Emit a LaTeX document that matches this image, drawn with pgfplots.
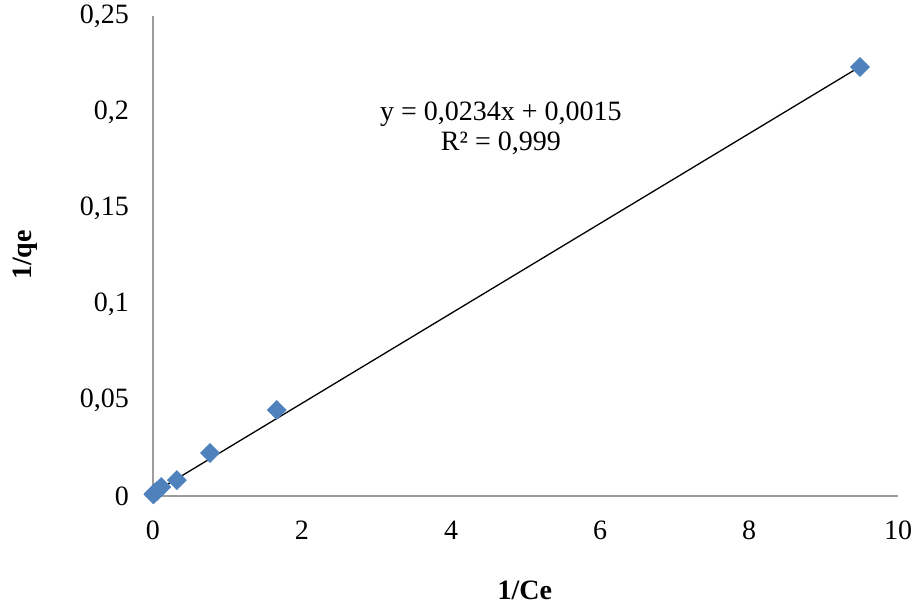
\documentclass[border=0pt]{standalone}
\usepackage{fontspec}
\setmainfont{Liberation Serif}
\usepackage{pgfplots}
\pgfplotsset{compat=1.18}
\definecolor{markblue}{HTML}{4F81BD}
\definecolor{axisgray}{HTML}{9C9C9C}

\begin{document}
\fontsize{28}{32}\selectfont
\begin{tikzpicture}
\path[use as bounding box] (-153pt,-116pt) rectangle (762pt,496pt);
\begin{axis}[
  at={(0,0)}, anchor=south west,
  scale only axis,
  width=745pt, height=480pt,
  xmin=0, xmax=10, ymin=0, ymax=0.25,
  axis lines=left,
  axis line style={axisgray, line width=1.2pt, -},
  major tick length=0pt,
  xtick={0,2,...,10},
  ytick={0,0.05,0.1,0.15,0.2,0.25},
  /pgf/number format/assume math mode=true,
  /pgf/number format/use comma,
  yticklabel style={/pgf/number format/fixed, /pgf/number format/precision=2,
    anchor=east, inner sep=0pt, xshift=-24pt},
  xticklabel style={anchor=center, inner sep=0pt, yshift=-34pt},
  ticklabel style={font=\fontsize{28}{32}\selectfont},
  xlabel={\textbf{1/Ce}},
  ylabel={\textbf{1/qe}},
  xlabel style={font=\fontsize{28}{32}\selectfont,
    at={(axis description cs:0.499,-0.196)}, anchor=center, inner sep=0pt},
  ylabel style={font=\fontsize{28}{32}\selectfont,
    at={(axis description cs:-0.172,0.502)}, anchor=center, inner sep=0pt},
  clip=false,
]
% measured isotherm points
\addplot[only marks, mark=square*, mark size=6.8pt,
  mark options={rotate=45, fill=markblue, draw=markblue}]
  coordinates {
    (0.005,0.0008) (0.01,0.0012) (0.02,0.0016) (0.05,0.0025)
    (0.11,0.0047) (0.32,0.0083) (0.765,0.0224) (1.66,0.0448) (9.49,0.2234)
  };
% linear fit y = 0.0234x + 0.0015
\addplot[black, line width=1.3pt] coordinates {(0.005,0.0016) (9.49,0.2236)};
\node[align=center, inner sep=0pt, font=\fontsize{28}{30}\selectfont] at (axis cs:4.67,0.1915)
  {y = 0,0234x + 0,0015\\R² = 0,999};
\end{axis}
\end{tikzpicture}
\end{document}
